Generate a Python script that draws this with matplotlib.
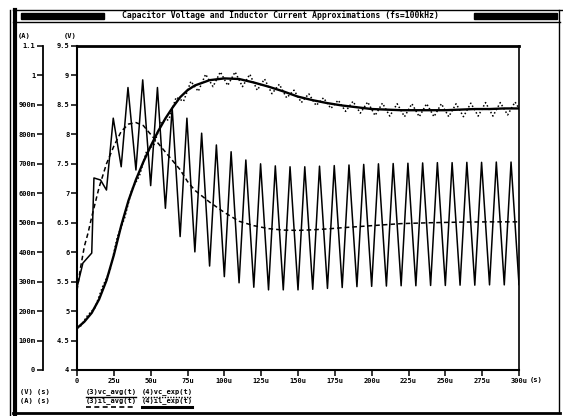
import numpy as np
import matplotlib
matplotlib.use('Agg')
import matplotlib.pyplot as plt
from matplotlib.lines import Line2D
from matplotlib.patches import Rectangle

# capacitor voltage, averaged model (V), sampled in us
vc_t = [0, 5, 10, 15, 20, 25, 30, 35, 40, 45, 50, 55, 60, 65, 70, 75, 80, 90,
        100, 110, 120, 130, 140, 150, 160, 170, 180, 190, 200, 210, 220, 230,
        240, 250, 260, 270, 280, 290, 300]
vc_avg = [4.71, 4.82, 4.97, 5.20, 5.52, 5.95, 6.45, 6.88, 7.23, 7.53, 7.80, 8.05,
          8.27, 8.46, 8.63, 8.75, 8.83, 8.92, 8.95, 8.94, 8.88, 8.81, 8.73, 8.64,
          8.58, 8.53, 8.49, 8.46, 8.43, 8.42, 8.41, 8.41, 8.41, 8.41, 8.42, 8.43,
          8.43, 8.44, 8.44]

# capacitor voltage, exact model: ripple lows / highs in each 10us cycle
vc_exp_lo = [4.74, 5.06, 5.68, 6.58, 7.29, 7.83, 8.25, 8.56, 8.73, 8.81, 8.83, 8.81,
             8.75, 8.69, 8.62, 8.54, 8.49, 8.44, 8.39, 8.36, 8.32, 8.31, 8.30, 8.30,
             8.30, 8.30, 8.30, 8.31, 8.31, 8.33]
vc_exp_hi = [4.93, 5.41, 6.25, 7.07, 7.72, 8.22, 8.63, 8.90, 9.02, 9.06, 9.06, 9.02,
             8.94, 8.85, 8.75, 8.69, 8.62, 8.58, 8.56, 8.55, 8.53, 8.52, 8.52, 8.52,
             8.52, 8.52, 8.53, 8.54, 8.54, 8.55]

# inductor current, averaged model (A)
il_t = [0, 2.5, 5, 7.5, 10, 15, 20, 25, 30, 35, 40, 45, 50, 55, 60, 65, 70, 75, 80,
        90, 100, 110, 120, 130, 140, 150, 160, 170, 180, 200, 220, 240, 260, 280, 300]
il_avg = [0.27, 0.35, 0.42, 0.465, 0.52, 0.62, 0.70, 0.76, 0.81, 0.835, 0.84, 0.83,
          0.80, 0.77, 0.74, 0.71, 0.68, 0.64, 0.61, 0.57, 0.535, 0.505, 0.49, 0.48,
          0.475, 0.474, 0.476, 0.479, 0.483, 0.49, 0.497, 0.50, 0.502, 0.503, 0.503]

# inductor current, exact model: start-up, then troughs (t=20..300) and peaks
il_exp_start_t = [0, 4, 10, 11.5, 16]
il_exp_start = [0.28, 0.363, 0.397, 0.652, 0.645]
il_exp_trough = [0.611, 0.690, 0.679, 0.626, 0.549, 0.453, 0.401, 0.353, 0.317, 0.296,
                 0.281, 0.272, 0.272, 0.272, 0.274, 0.277, 0.280, 0.283, 0.284, 0.285,
                 0.286, 0.286, 0.287, 0.287, 0.288, 0.288, 0.289, 0.289, 0.290]
il_exp_peak = [0.855, 0.959, 0.985, 0.959, 0.889, 0.855, 0.804, 0.764, 0.741, 0.713,
               0.700, 0.693, 0.690, 0.690, 0.692, 0.694, 0.696, 0.698, 0.700, 0.701,
               0.702, 0.703, 0.704, 0.704, 0.705, 0.705, 0.706, 0.706]

period = 10.0
x_ticks = list(range(0, 301, 25))
x_labels = ['0'] + ['%du' % v for v in x_ticks[1:]]
v_ticks = [4 + 0.5 * i for i in range(12)]
v_labels = ['%g' % v for v in v_ticks]
a_ticks = [0.1 * i for i in range(12)]
a_labels = ['0'] + ['%dm' % (100 * i) for i in range(1, 10)] + ['1', '1.1']

# build time series for the exact models
vce_t, vce = [0.0], [vc_avg[0]]
for k, (lo, hi) in enumerate(zip(vc_exp_lo, vc_exp_hi)):
    vce_t += [k * period + 2.3, k * period + 7.3]
    vce += [lo, hi]
vce_t.append(300.0)
vce.append(vc_avg[-1])

ile_t, ile = list(il_exp_start_t), list(il_exp_start)
for k, tr in enumerate(il_exp_trough):
    ile_t.append((k + 2) * period)
    ile.append(tr)
    if k < len(il_exp_peak):
        ile_t.append((k + 2) * period + 4.6)
        ile.append(il_exp_peak[k])

W, H = 563, 416
def fx(x):
    return x / W
def fy(y):
    return 1 - y / H

mono = 'DejaVu Sans Mono'
fs = 5

fig = plt.figure(figsize=(W / 100, H / 100), dpi=100)
ax = fig.add_axes([fx(77), fy(370), (519 - 77) / W, (370 - 46) / H])

ax.plot(vc_t, vc_avg, color='k', lw=1.7)
ax.plot(vce_t, vce, color='k', lw=1.1, ls=(0, (1, 1.5)))
ax.set_xlim(0, 300)
ax.set_ylim(4, 9.5)
ax.set_xticks(x_ticks)
ax.set_xticklabels(x_labels)
ax.set_yticks(v_ticks)
ax.set_yticklabels(v_labels)

axA = ax.twinx()
axA.plot(il_t, il_avg, color='k', lw=1.1, ls=(0, (3, 2)))
axA.plot(ile_t, ile, color='k', lw=1.1)
axA.set_ylim(0, 1.1)
axA.yaxis.set_ticks_position('left')
axA.yaxis.set_label_position('left')
axA.spines['left'].set_position(('outward', 24.5))
axA.spines['left'].set_visible(True)
for s in ['right', 'top', 'bottom']:
    axA.spines[s].set_visible(False)
axA.set_yticks(a_ticks)
axA.set_yticklabels(a_labels)

ax.spines['top'].set_linewidth(2)
ax.spines['left'].set_linewidth(1.5)
ax.spines['bottom'].set_linewidth(1.5)
ax.spines['right'].set_linewidth(1.2)
axA.spines['left'].set_linewidth(1.3)
for a in (ax, axA):
    a.tick_params(direction='out', length=4, width=1.1, pad=1.5, labelsize=fs)
    for lab in a.get_xticklabels() + a.get_yticklabels():
        lab.set_fontfamily(mono)
        lab.set_fontweight('bold')

def ftext(x, y, s, **kw):
    fig.text(fx(x), fy(y), s, fontsize=kw.pop('size', fs), fontfamily=mono,
             fontweight='bold', va='center', **kw)

def fline(x0, y0, x1, y1, **kw):
    fig.add_artist(Line2D([fx(x0), fx(x1)], [fy(y0), fy(y1)],
                          transform=fig.transFigure, color='k', **kw))

# axis units
ftext(24, 36, '(A)', ha='center')
ftext(70, 36, '(V)', ha='center')
ftext(530, 380, '(s)', ha='left')

# window frame and title bar
fline(13, 10, 563, 10, lw=1)
fline(13, 22, 560, 22, lw=1)
fline(10, 10, 10, 416, lw=1)
fline(15, 10, 15, 416, lw=3)
fline(559, 10, 559, 413, lw=1)
fline(13, 413, 560, 413, lw=2)
fig.add_artist(Rectangle((fx(21), fy(19)), (104 - 21) / W, 6 / H,
                         transform=fig.transFigure, color='k'))
fig.add_artist(Rectangle((fx(474), fy(19)), (557 - 474) / W, 6 / H,
                         transform=fig.transFigure, color='k'))
ftext(280, 16, 'Capacitor Voltage and Inductor Current Approximations (fs=100kHz)',
      ha='center', size=5.8)

# legend
ftext(20, 392, '(V) (s)', ha='left')
ftext(20, 401, '(A) (s)', ha='left')
ftext(86, 392, '(3)vc_avg(t)', ha='left')
ftext(142, 392, '(4)vc_exp(t)', ha='left')
ftext(86, 401, '(3)il_avg(t)', ha='left')
ftext(142, 401, '(4)il_exp(t)', ha='left')
fline(86, 396.5, 136, 396.5, lw=1)
fline(142, 396.5, 192, 396.5, lw=1, ls=(0, (1, 1)))
fline(86, 407, 136, 407, lw=1.2, ls=(0, (3, 2)))
fline(142, 407, 192, 407, lw=2.2)

fig.savefig('out.png', dpi=100)
